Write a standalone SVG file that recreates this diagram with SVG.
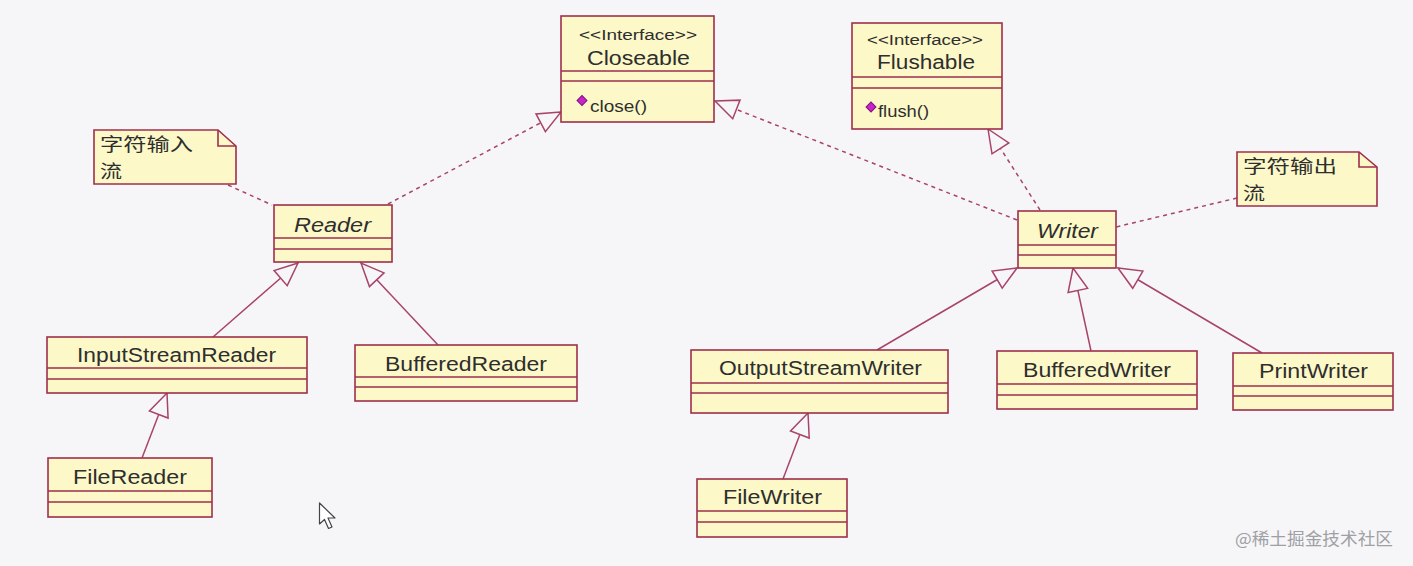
<svg xmlns="http://www.w3.org/2000/svg" width="1413" height="566" viewBox="0 0 1413 566">
<defs>
<style>
.box{fill:#FCF8C8;stroke:#9E2F4C;stroke-width:1.6}
.sep{stroke:#9E2F4C;stroke-width:1.6;fill:none}
.t{font-family:"Liberation Sans",Arial,sans-serif;font-size:20px;fill:#2E2E2E}
.st{font-family:"Liberation Sans",Arial,sans-serif;font-size:14px;fill:#2E2E2E}
.op{font-family:"Liberation Sans",Arial,sans-serif;font-size:16px;fill:#2E2E2E}
.note{font-family:"Noto Sans CJK SC","Liberation Sans",sans-serif;font-size:18px;fill:#2E2E2E}
.gen{stroke:#A8446A;stroke-width:1.5;fill:none}
.dash{stroke:#A8446A;stroke-width:1.5;fill:none;stroke-dasharray:4 4}
.dia{fill:#CC22CC;stroke:#7A157A;stroke-width:1}
</style>
<marker id="tri" markerUnits="userSpaceOnUse" viewBox="-26 -12 28 24" markerWidth="28" markerHeight="24" refX="0" refY="0" orient="auto">
<path d="M0,0 L-23,-10 L-23,10 Z" fill="#F6F6F9" stroke="#A8446A" stroke-width="1.5" stroke-dasharray="none"/>
</marker>
</defs>
<rect width="1413" height="566" fill="#F6F6F9"/>

<g id="connectors">
<line class="dash" x1="388" y1="204" x2="561" y2="112" marker-end="url(#tri)"/>
<line class="dash" x1="1017" y1="220" x2="715" y2="101" marker-end="url(#tri)"/>
<line class="dash" x1="1040" y1="210" x2="988" y2="129" marker-end="url(#tri)"/>
<line class="dash" x1="228" y1="185" x2="272" y2="205"/>
<line class="dash" x1="1237" y1="198" x2="1116" y2="227"/>
<line class="gen" x1="213" y1="337" x2="298" y2="263" marker-end="url(#tri)"/>
<line class="gen" x1="438" y1="345" x2="361" y2="263" marker-end="url(#tri)"/>
<line class="gen" x1="142" y1="458" x2="167" y2="393" marker-end="url(#tri)"/>
<line class="gen" x1="877" y1="350" x2="1017" y2="268" marker-end="url(#tri)"/>
<line class="gen" x1="1091" y1="351" x2="1073" y2="268" marker-end="url(#tri)"/>
<line class="gen" x1="1262" y1="353" x2="1118" y2="268" marker-end="url(#tri)"/>
<line class="gen" x1="783" y1="479" x2="808" y2="413" marker-end="url(#tri)"/>
</g>

<g id="closeable">
<rect class="box" x="561" y="16" width="153" height="106"/>
<line class="sep" x1="561" y1="71" x2="714" y2="71"/>
<line class="sep" x1="561" y1="81" x2="714" y2="81"/>
<text class="st" x="579" y="40" textLength="118" lengthAdjust="spacingAndGlyphs">&lt;&lt;Interface&gt;&gt;</text>
<text class="t" x="587" y="65" textLength="103" lengthAdjust="spacingAndGlyphs">Closeable</text>
<rect class="dia" x="578.5" y="97" width="7" height="7" transform="rotate(45 582 100.5)"/>
<text class="op" x="590" y="112" textLength="57" lengthAdjust="spacingAndGlyphs">close()</text>
</g>

<g id="flushable">
<rect class="box" x="852" y="23" width="150" height="106"/>
<line class="sep" x1="852" y1="77" x2="1002" y2="77"/>
<line class="sep" x1="852" y1="88" x2="1002" y2="88"/>
<text class="st" x="867" y="45" textLength="116" lengthAdjust="spacingAndGlyphs">&lt;&lt;Interface&gt;&gt;</text>
<text class="t" x="877" y="69" textLength="98" lengthAdjust="spacingAndGlyphs">Flushable</text>
<rect class="dia" x="867.5" y="103.5" width="7" height="7" transform="rotate(45 871 107)"/>
<text class="op" x="878" y="117" textLength="51" lengthAdjust="spacingAndGlyphs">flush()</text>
</g>

<g id="note-input">
<path class="box" d="M94,130 L218,130 L236,146 L236,184 L94,184 Z"/>
<path class="sep" d="M218,130 L218,146 L236,146"/>
<text class="note" x="100" y="151" textLength="93" lengthAdjust="spacingAndGlyphs">字符输入</text>
<text class="note" x="100" y="178" textLength="22" lengthAdjust="spacingAndGlyphs">流</text>
</g>

<g id="reader">
<rect class="box" x="274" y="205" width="118" height="57"/>
<line class="sep" x1="274" y1="238" x2="392" y2="238"/>
<line class="sep" x1="274" y1="249" x2="392" y2="249"/>
<text class="t" x="294" y="232" font-style="italic" textLength="77" lengthAdjust="spacingAndGlyphs">Reader</text>
</g>

<g id="inputstreamreader">
<rect class="box" x="47" y="337" width="260" height="56"/>
<line class="sep" x1="47" y1="368" x2="307" y2="368"/>
<line class="sep" x1="47" y1="379" x2="307" y2="379"/>
<text class="t" x="77" y="362" textLength="199" lengthAdjust="spacingAndGlyphs">InputStreamReader</text>
</g>

<g id="bufferedreader">
<rect class="box" x="355" y="345" width="222" height="56"/>
<line class="sep" x1="355" y1="377" x2="577" y2="377"/>
<line class="sep" x1="355" y1="387" x2="577" y2="387"/>
<text class="t" x="385" y="371" textLength="162" lengthAdjust="spacingAndGlyphs">BufferedReader</text>
</g>

<g id="filereader">
<rect class="box" x="48" y="458" width="164" height="59"/>
<line class="sep" x1="48" y1="491" x2="212" y2="491"/>
<line class="sep" x1="48" y1="502" x2="212" y2="502"/>
<text class="t" x="73" y="484" textLength="114" lengthAdjust="spacingAndGlyphs">FileReader</text>
</g>

<g id="writer">
<rect class="box" x="1018" y="211" width="98" height="57"/>
<line class="sep" x1="1018" y1="245" x2="1116" y2="245"/>
<line class="sep" x1="1018" y1="255" x2="1116" y2="255"/>
<text class="t" x="1037" y="238" font-style="italic" textLength="61" lengthAdjust="spacingAndGlyphs">Writer</text>
</g>

<g id="note-output">
<path class="box" d="M1237,152 L1359,152 L1377,167 L1377,206 L1237,206 Z"/>
<path class="sep" d="M1359,152 L1359,167 L1377,167"/>
<text class="note" x="1243" y="173" textLength="94" lengthAdjust="spacingAndGlyphs">字符输出</text>
<text class="note" x="1243" y="200" textLength="22" lengthAdjust="spacingAndGlyphs">流</text>
</g>

<g id="outputstreamwriter">
<rect class="box" x="691" y="350" width="257" height="63"/>
<line class="sep" x1="691" y1="383" x2="948" y2="383"/>
<line class="sep" x1="691" y1="393" x2="948" y2="393"/>
<text class="t" x="719" y="375" textLength="203" lengthAdjust="spacingAndGlyphs">OutputStreamWriter</text>
</g>

<g id="bufferedwriter">
<rect class="box" x="997" y="351" width="200" height="58"/>
<line class="sep" x1="997" y1="384" x2="1197" y2="384"/>
<line class="sep" x1="997" y1="395" x2="1197" y2="395"/>
<text class="t" x="1023" y="377" textLength="148" lengthAdjust="spacingAndGlyphs">BufferedWriter</text>
</g>

<g id="printwriter">
<rect class="box" x="1233" y="353" width="160" height="57"/>
<line class="sep" x1="1233" y1="386" x2="1393" y2="386"/>
<line class="sep" x1="1233" y1="396" x2="1393" y2="396"/>
<text class="t" x="1259" y="378" textLength="109" lengthAdjust="spacingAndGlyphs">PrintWriter</text>
</g>

<g id="filewriter">
<rect class="box" x="697" y="479" width="150" height="58"/>
<line class="sep" x1="697" y1="511" x2="847" y2="511"/>
<line class="sep" x1="697" y1="522" x2="847" y2="522"/>
<text class="t" x="723" y="504" textLength="99" lengthAdjust="spacingAndGlyphs">FileWriter</text>
</g>

<path id="cursor" d="M319.5,503 L319.5,524 L324.5,519.5 L328.5,528.5 L332,527 L328,518 L335,518 Z" fill="#FFFFFF" stroke="#444444" stroke-width="1.2" stroke-linejoin="round"/>

<text id="watermark" x="1235" y="545" font-family="'Noto Sans CJK SC','Liberation Sans',sans-serif" font-size="17" fill="#A0A0A4" textLength="158" lengthAdjust="spacingAndGlyphs">@稀土掘金技术社区</text>
</svg>
